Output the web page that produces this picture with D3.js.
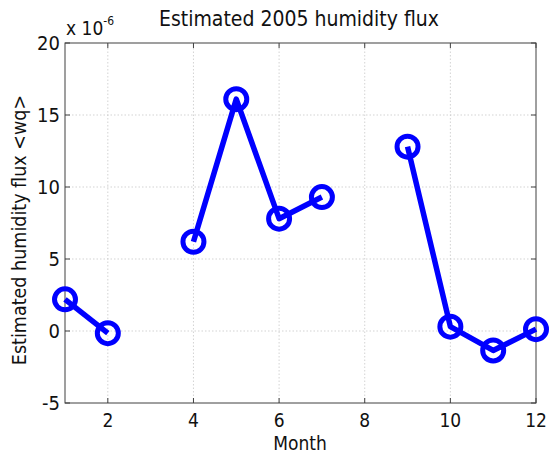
<!DOCTYPE html>
<html>
<head>
<meta charset="utf-8">
<script src="https://cdn.jsdelivr.net/npm/d3@7"></script>
<style>
  html, body { margin: 0; padding: 0; background: #fff; }
  svg { display: block; font-family: "DejaVu Sans Condensed", "DejaVu Sans", sans-serif; font-stretch: condensed; }
</style>
</head>
<body>
<svg id="chart" width="550" height="454"></svg>
<script>
// Monthly humidity flux estimates for 2005 (units of 1e-6); gaps are months with no estimate
const segments = [
  { months: [1, 2], flux: [2.2, -0.15] },
  { months: [4, 5, 6, 7], flux: [6.2, 16.1, 7.8, 9.3] },
  { months: [9, 10, 11, 12], flux: [12.8, 0.3, -1.35, 0.13] }
];
const xTicks = [2, 4, 6, 8, 10, 12];
const yTicks = [-5, 0, 5, 10, 15, 20];

const svg = d3.select("#chart");
const margin = { left: 65, right: 14, top: 43, bottom: 51 };
const W = 550, H = 454;

const x = d3.scaleLinear().domain([1, 12]).range([margin.left, W - margin.right]);
const y = d3.scaleLinear().domain([-5, 20]).range([H - margin.bottom, margin.top]);

const x0 = x.range()[0], x1 = x.range()[1];
const y0 = y.range()[0], y1 = y.range()[1];

// dotted grid
const grid = svg.append("g").attr("stroke", "#c8c8c8").attr("stroke-width", 0.8)
  .attr("stroke-dasharray", "1.5,2");
grid.selectAll(".gx").data(xTicks.filter(d => d < 12)).join("line")
  .attr("x1", d => x(d)).attr("x2", d => x(d)).attr("y1", y0).attr("y2", y1);
grid.selectAll(".gy").data(yTicks.filter(d => d > -5 && d < 20)).join("line")
  .attr("x1", x0).attr("x2", x1).attr("y1", d => y(d)).attr("y2", d => y(d));

// frame
svg.append("rect").attr("x", x0).attr("y", y1).attr("width", x1 - x0).attr("height", y0 - y1)
  .attr("fill", "none").attr("stroke", "#404040").attr("stroke-width", 1);

// inward ticks on all four sides
const tk = 5;
const ticks = svg.append("g").attr("stroke", "#404040").attr("stroke-width", 1);
xTicks.forEach(d => {
  ticks.append("line").attr("x1", x(d)).attr("x2", x(d)).attr("y1", y0).attr("y2", y0 - tk);
  ticks.append("line").attr("x1", x(d)).attr("x2", x(d)).attr("y1", y1).attr("y2", y1 + tk);
});
yTicks.forEach(d => {
  ticks.append("line").attr("x1", x0).attr("x2", x0 + tk).attr("y1", y(d)).attr("y2", y(d));
  ticks.append("line").attr("x1", x1).attr("x2", x1 - tk).attr("y1", y(d)).attr("y2", y(d));
});

// tick labels
svg.append("g").selectAll("text").data(xTicks).join("text")
  .attr("x", d => x(d)).attr("y", y0 + 24).attr("text-anchor", "middle")
  .attr("font-size", 19).attr("fill", "#111").text(d => d);
svg.append("g").selectAll("text").data(yTicks).join("text")
  .attr("x", x0 - 5).attr("y", d => y(d)).attr("dy", "0.36em").attr("text-anchor", "end")
  .attr("font-size", 20).attr("fill", "#111").text(d => d);

// exponent marker
const ex = svg.append("text").attr("x", x0 + 1).attr("y", 35).attr("font-size", 19).attr("fill", "#111");
ex.append("tspan").text("x 10");
ex.append("tspan").attr("dy", -10).attr("font-size", 12).text("-6");

// title and axis labels
svg.append("text").attr("x", 299).attr("y", 26).attr("text-anchor", "middle")
  .attr("font-size", 21).attr("fill", "#111").text("Estimated 2005 humidity flux");
svg.append("text").attr("x", 300).attr("y", 449.5).attr("text-anchor", "middle")
  .attr("font-size", 19).attr("fill", "#111").text("Month");
svg.append("text").attr("transform", `translate(26,${(y0 + y1) / 2 + 7}) rotate(-90)`)
  .attr("text-anchor", "middle").attr("font-size", 19.5).attr("fill", "#111")
  .text("Estimated humidity flux <wq>");

// series lines and circle markers
const line = d3.line().x(d => x(d[0])).y(d => y(d[1]));
const plot = svg.append("g");
segments.forEach(s => {
  const pts = s.months.map((m, i) => [m, s.flux[i]]);
  plot.append("path").datum(pts).attr("d", line)
    .attr("fill", "none").attr("stroke", "#0000ff").attr("stroke-width", 5.5)
    .attr("stroke-linejoin", "round");
  plot.selectAll(null).data(pts).join("circle")
    .attr("cx", d => x(d[0])).attr("cy", d => y(d[1])).attr("r", 10.5)
    .attr("fill", "none").attr("stroke", "#0000ff").attr("stroke-width", 5);
});
</script>
</body>
</html>
